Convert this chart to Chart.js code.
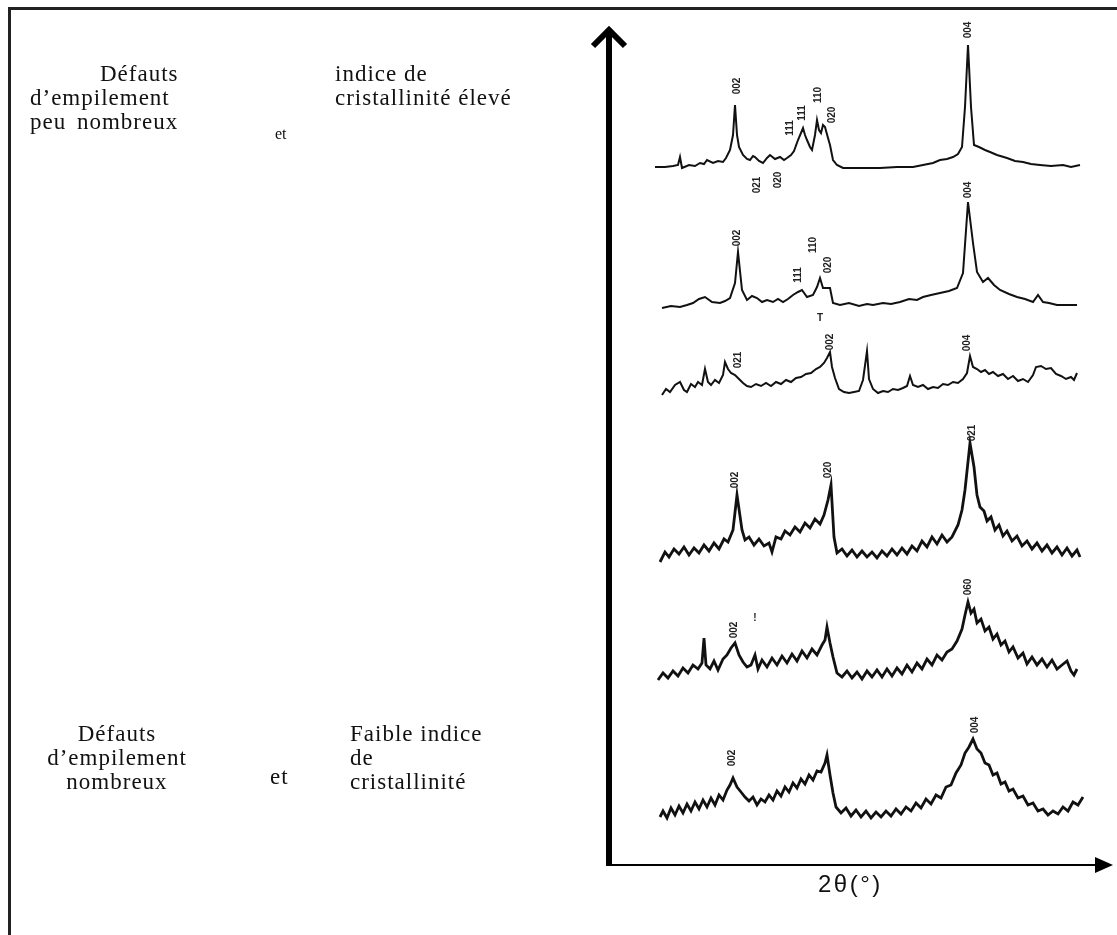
<!DOCTYPE html>
<html>
<head>
<meta charset="utf-8">
<script src="https://cdn.jsdelivr.net/npm/chart.js@4.4.0/dist/chart.umd.min.js"></script>
<style>
    body { margin: 0; background: #fff; width: 1117px; height: 935px; overflow: hidden; position: relative; }
    #cadre { position: absolute; left: 8px; top: 7px; width: 1200px; height: 1000px; border-top: 3px solid #222; border-left: 3px solid #222; }
    canvas { position: absolute; left: 0; top: 0; }
    .txt { position: absolute; font-family: "Liberation Serif", "Times New Roman", serif; font-size: 23px; line-height: 24px; letter-spacing: 1px; color: #111; white-space: nowrap; }
    #axe-x { position: absolute; font-family: "Liberation Sans", Arial, sans-serif; font-size: 24px; letter-spacing: 2.5px; color: #111; left: 818px; top: 870px; }
</style>
</head>
<body>
<div id="cadre"></div>
<canvas id="myChart" width="1117" height="935"></canvas>

<div class="txt" style="left: 100px; top: 62px;">Défauts</div>
<div class="txt" style="left: 30px; top: 86px;">d’empilement<br><span style="word-spacing: 4px;">peu nombreux</span></div>
<div class="txt" style="left: 275px; top: 122px; font-size: 16px; letter-spacing: 0;">et</div>
<div class="txt" style="left: 335px; top: 62px;">indice de<br>cristallinité élevé</div>

<div class="txt" style="left: 34px; top: 722px; width: 166px; text-align: center;">Défauts<br>d’empilement<br>nombreux</div>
<div class="txt" style="left: 270px; top: 765px;">et</div>
<div class="txt" style="left: 350px; top: 722px;">Faible indice<br>de<br>cristallinité</div>

<div id="axe-x">2θ(°)</div>

<script>
// diffractogrammes, du haut (bien cristallisé) vers le bas (désordonné)
// x = 2theta (deg), y = intensite decalee (u.a.)
var x1 = [7.4, 7.9, 8.3, 8.55, 8.65, 8.75, 9.1, 9.4, 9.65, 9.85, 10.0, 10.3, 10.55, 10.8, 10.95, 11.15, 11.3, 11.4, 11.5, 11.6, 11.8, 12.0, 12.15, 12.3, 12.4, 12.6, 12.8, 13.0, 13.15, 13.4, 13.65, 13.85, 14.0, 14.2, 14.35, 14.55, 14.8, 14.9, 15.0, 15.15, 15.25, 15.4, 15.5, 15.6, 15.7, 15.8, 15.9, 16.05, 16.15, 16.3, 16.5, 16.8, 17.5, 18.65, 19.5, 20.3, 20.8, 21.3, 21.65, 22.0, 22.3, 22.55, 22.75, 22.9, 23.05, 23.2, 23.35, 23.6, 23.9, 24.15, 24.5, 25.0, 25.4, 25.8, 26.2, 26.65, 27.2, 27.8, 28.2, 28.65];
var y1 = [768, 768, 769, 770, 778, 767, 770, 769, 772, 771, 775, 772, 774, 773, 777, 785, 800, 830, 800, 788, 780, 776, 775, 779, 778, 774, 772, 777, 780, 776, 778, 775, 777, 780, 784, 795, 807, 800, 795, 788, 785, 800, 815, 805, 802, 810, 808, 797, 790, 775, 770, 767, 767, 767, 768, 768, 770, 772, 775, 776, 778, 781, 788, 828, 890, 828, 790, 788, 785, 783, 780, 777, 774, 773, 771, 770, 769, 770, 768, 770];

var x2 = [7.75, 8.2, 8.65, 9.0, 9.3, 9.6, 9.9, 10.25, 10.65, 10.9, 11.15, 11.4, 11.55, 11.75, 12.0, 12.25, 12.5, 12.75, 13.0, 13.3, 13.55, 13.8, 14.05, 14.3, 14.55, 14.75, 15.0, 15.3, 15.5, 15.65, 15.8, 16.15, 16.3, 16.65, 17.1, 17.6, 18.0, 18.3, 18.8, 19.2, 19.65, 20.1, 20.5, 20.8, 21.2, 21.65, 22.1, 22.5, 22.8, 23.05, 23.3, 23.5, 23.8, 24.05, 24.35, 24.65, 25.1, 25.5, 25.9, 26.3, 26.55, 26.8, 27.1, 27.5, 28.0, 28.5];
var y2 = [627, 629, 628, 630, 632, 636, 638, 633, 632, 634, 637, 652, 683, 645, 635, 639, 637, 633, 635, 633, 636, 633, 636, 640, 643, 645, 638, 640, 648, 657, 647, 647, 632, 630, 632, 629, 631, 630, 632, 631, 633, 636, 635, 638, 640, 642, 644, 647, 662, 733, 692, 663, 653, 657, 650, 645, 641, 638, 636, 633, 640, 633, 632, 630, 630, 630];

var x3 = [7.75, 7.95, 8.15, 8.4, 8.65, 8.85, 9.0, 9.2, 9.4, 9.55, 9.75, 9.9, 10.05, 10.2, 10.4, 10.6, 10.8, 10.9, 11.05, 11.2, 11.4, 11.6, 11.8, 12.0, 12.2, 12.45, 12.7, 12.95, 13.2, 13.45, 13.7, 13.95, 14.2, 14.45, 14.7, 14.95, 15.2, 15.45, 15.65, 15.85, 16.0, 16.15, 16.25, 16.4, 16.6, 16.85, 17.1, 17.35, 17.6, 17.8, 18.0, 18.1, 18.3, 18.55, 18.8, 19.05, 19.3, 19.55, 19.8, 20.0, 20.15, 20.3, 20.55, 20.8, 21.05, 21.3, 21.55, 21.8, 22.05, 22.3, 22.55, 22.8, 23.0, 23.15, 23.3, 23.5, 23.7, 23.9, 24.1, 24.3, 24.55, 24.8, 25.05, 25.3, 25.55, 25.8, 26.05, 26.3, 26.45, 26.7, 26.95, 27.2, 27.45, 27.7, 27.95, 28.2, 28.35, 28.5];
var y3 = [540, 546, 543, 550, 553, 545, 543, 551, 548, 553, 550, 566, 553, 550, 555, 552, 560, 573, 566, 562, 560, 556, 552, 549, 548, 551, 549, 552, 549, 553, 551, 555, 553, 557, 558, 561, 562, 566, 568, 572, 577, 583, 568, 557, 546, 543, 542, 543, 544, 555, 584, 556, 546, 542, 544, 543, 546, 545, 547, 549, 559, 550, 548, 550, 546, 548, 547, 551, 550, 553, 552, 556, 562, 579, 568, 566, 563, 565, 561, 563, 559, 561, 556, 559, 554, 556, 553, 560, 568, 569, 566, 567, 561, 559, 556, 558, 555, 562];

var x4 = [7.65, 7.9, 8.1, 8.35, 8.6, 8.85, 9.1, 9.35, 9.6, 9.85, 10.1, 10.35, 10.6, 10.85, 11.05, 11.3, 11.5, 11.75, 11.9, 12.1, 12.35, 12.6, 12.85, 13.1, 13.25, 13.45, 13.7, 13.9, 14.15, 14.4, 14.65, 14.9, 15.15, 15.4, 15.65, 15.85, 16.05, 16.2, 16.35, 16.5, 16.75, 17.0, 17.25, 17.5, 17.75, 18.0, 18.25, 18.5, 18.75, 19.0, 19.25, 19.5, 19.75, 20.0, 20.25, 20.5, 20.75, 21.0, 21.25, 21.5, 21.75, 22.0, 22.25, 22.55, 22.75, 22.9, 23.15, 23.35, 23.5, 23.65, 23.85, 24.0, 24.2, 24.4, 24.6, 24.8, 25.0, 25.25, 25.5, 25.75, 26.0, 26.25, 26.5, 26.75, 27.0, 27.25, 27.5, 27.75, 28.0, 28.25, 28.5, 28.65];
var y4 = [373, 383, 378, 386, 381, 388, 380, 387, 382, 390, 384, 392, 386, 396, 393, 405, 440, 405, 395, 398, 390, 396, 389, 392, 383, 398, 396, 404, 400, 408, 403, 412, 407, 416, 411, 420, 435, 450, 398, 382, 386, 379, 385, 378, 384, 378, 383, 377, 384, 379, 386, 380, 387, 381, 389, 384, 394, 388, 398, 391, 400, 393, 398, 410, 425, 445, 492, 468, 440, 428, 424, 414, 418, 405, 410, 399, 404, 394, 399, 389, 394, 386, 392, 384, 390, 382, 388, 380, 387, 379, 385, 378];

var x5 = [7.55, 7.8, 8.05, 8.3, 8.55, 8.8, 9.05, 9.3, 9.55, 9.75, 9.85, 9.95, 10.15, 10.35, 10.55, 10.8, 11.0, 11.2, 11.4, 11.6, 11.8, 12.0, 12.2, 12.4, 12.55, 12.75, 13.0, 13.25, 13.5, 13.75, 14.0, 14.25, 14.5, 14.75, 15.0, 15.25, 15.5, 15.75, 15.9, 16.0, 16.15, 16.3, 16.5, 16.75, 17.0, 17.25, 17.5, 17.75, 18.0, 18.25, 18.5, 18.75, 19.0, 19.25, 19.5, 19.75, 20.0, 20.25, 20.5, 20.75, 21.0, 21.25, 21.5, 21.75, 22.0, 22.25, 22.5, 22.75, 22.9, 23.05, 23.2, 23.35, 23.5, 23.7, 23.9, 24.1, 24.3, 24.5, 24.7, 24.9, 25.1, 25.3, 25.55, 25.8, 26.0, 26.25, 26.5, 26.75, 27.0, 27.25, 27.5, 27.75, 28.0, 28.2, 28.35, 28.5];
var y5 = [255, 262, 257, 264, 259, 267, 262, 270, 266, 272, 297, 270, 266, 274, 265, 276, 280, 287, 292, 280, 273, 268, 270, 280, 266, 275, 268, 277, 270, 279, 272, 281, 274, 284, 277, 286, 280, 290, 295, 308, 292, 278, 262, 258, 264, 257, 263, 256, 264, 258, 265, 258, 266, 259, 267, 261, 270, 263, 272, 266, 276, 270, 280, 275, 283, 286, 294, 306, 320, 333, 322, 326, 312, 316, 304, 308, 296, 301, 290, 294, 283, 288, 277, 282, 271, 278, 270, 276, 268, 275, 266, 270, 274, 264, 260, 266];

var x6 = [7.65, 7.8, 8.0, 8.2, 8.4, 8.6, 8.8, 9.0, 9.2, 9.4, 9.6, 9.8, 10.0, 10.2, 10.4, 10.6, 10.8, 11.0, 11.15, 11.3, 11.5, 11.7, 11.9, 12.1, 12.3, 12.5, 12.7, 12.9, 13.1, 13.3, 13.5, 13.7, 13.9, 14.1, 14.3, 14.5, 14.7, 14.9, 15.1, 15.3, 15.5, 15.7, 15.9, 16.0, 16.15, 16.3, 16.45, 16.7, 16.95, 17.2, 17.45, 17.7, 17.95, 18.2, 18.45, 18.7, 18.95, 19.2, 19.45, 19.7, 19.95, 20.2, 20.45, 20.7, 20.95, 21.2, 21.45, 21.7, 21.95, 22.2, 22.45, 22.7, 22.9, 23.1, 23.3, 23.5, 23.7, 23.9, 24.1, 24.3, 24.5, 24.7, 24.9, 25.1, 25.3, 25.55, 25.8, 26.05, 26.3, 26.55, 26.8, 27.05, 27.3, 27.55, 27.8, 28.05, 28.3, 28.55, 28.8];
var y6 = [118, 124, 117, 127, 120, 129, 122, 131, 124, 133, 126, 135, 128, 137, 130, 140, 135, 145, 150, 157, 148, 143, 138, 134, 138, 130, 136, 133, 140, 135, 144, 139, 148, 143, 152, 147, 156, 151, 160, 155, 164, 163, 172, 180, 160, 142, 128, 122, 127, 119, 125, 118, 124, 117, 123, 118, 124, 119, 126, 121, 128, 124, 132, 127, 136, 131, 140, 137, 148, 150, 162, 170, 182, 188, 196, 186, 182, 172, 170, 160, 162, 151, 153, 144, 146, 137, 139, 130, 132, 124, 126, 120, 124, 121, 128, 124, 133, 130, 138];

// indexation des raies (texte vertical)
var raieX = [11.5, 14.15, 14.75, 15.55, 16.25, 12.5, 13.55, 23.05, 11.5, 14.55, 15.3, 16.05, 23.05, 11.55, 16.15, 23.0, 11.4, 16.05, 23.25, 11.35, 23.05, 11.25, 23.4];
var raieY = [849, 807, 822, 840, 820, 750, 755, 905, 697, 660, 690, 670, 745, 575, 593, 592, 455, 465, 502, 305, 348, 177, 210];
var raieTxt = ["002", "111", "111", "110", "020", "021", "020", "004", "002", "111", "110", "020", "004", "021", "002", "004", "002", "020", "021", "002", "060", "002", "004"];

// petites marques isolees
var marqueX = [15.65, 12.4];
var marqueY = [617, 317];
var marqueTxt = ["T", "!"];

// origine des axes fleches
var axeX0 = 5.1, axeXmax = 30.3;
var axeY0 = 70, axeYmax = 908;

function serie(xs, ys) {
    return xs.map(function (x, i) {
        return { x: x, y: ys[i] };
    });
}

var lesX = [x1, x2, x3, x4, x5, x6];
var lesY = [y1, y2, y3, y4, y5, y6];
var datasets = [];
for (var i = 0; i < lesX.length; i++) {
    datasets.push({
        data: serie(lesX[i], lesY[i]),
        borderColor: "#111",
        borderWidth: i < 3 ? 2 : 2.8,
        pointRadius: 0,
        tension: 0,
        fill: false
    });
}

var axesFleches = {
    id: "axesFleches",
    afterDraw: function (chart) {
        var ctx = chart.ctx;
        var sx = chart.scales.x, sy = chart.scales.y;
        var x0 = sx.getPixelForValue(axeX0);
        var y0 = sy.getPixelForValue(axeY0);
        var xm = sx.getPixelForValue(axeXmax);
        var ym = sy.getPixelForValue(axeYmax);
        ctx.save();
        ctx.strokeStyle = "#000";
        ctx.fillStyle = "#000";
        // axe vertical epais
        ctx.lineWidth = 6;
        ctx.beginPath();
        ctx.moveTo(x0, y0);
        ctx.lineTo(x0, ym + 2);
        ctx.stroke();
        ctx.lineJoin = "miter";
        ctx.beginPath();
        ctx.moveTo(x0 - 16, ym + 19);
        ctx.lineTo(x0, ym + 3);
        ctx.lineTo(x0 + 16, ym + 19);
        ctx.stroke();
        // axe horizontal
        ctx.lineWidth = 2;
        ctx.beginPath();
        ctx.moveTo(x0 - 3, y0);
        ctx.lineTo(xm - 14, y0);
        ctx.stroke();
        ctx.beginPath();
        ctx.moveTo(xm, y0);
        ctx.lineTo(xm - 18, y0 - 8);
        ctx.lineTo(xm - 18, y0 + 8);
        ctx.closePath();
        ctx.fill();
        ctx.restore();
    }
};

var indexation = {
    id: "indexation",
    afterDatasetsDraw: function (chart) {
        var ctx = chart.ctx;
        var sx = chart.scales.x, sy = chart.scales.y;
        ctx.save();
        ctx.fillStyle = "#222";
        ctx.font = "bold 10px 'Liberation Sans', Arial, sans-serif";
        ctx.textAlign = "center";
        ctx.textBaseline = "middle";
        for (var i = 0; i < raieTxt.length; i++) {
            ctx.save();
            ctx.translate(sx.getPixelForValue(raieX[i]), sy.getPixelForValue(raieY[i]));
            ctx.rotate(-Math.PI / 2);
            ctx.fillText(raieTxt[i], 0, 0);
            ctx.restore();
        }
        for (var j = 0; j < marqueTxt.length; j++) {
            ctx.fillText(marqueTxt[j], sx.getPixelForValue(marqueX[j]), sy.getPixelForValue(marqueY[j]));
        }
        ctx.restore();
    }
};

var ctx = document.getElementById("myChart").getContext("2d");
var myChart = new Chart(ctx, {
    type: "line",
    data: { datasets: datasets },
    options: {
        responsive: false,
        animation: false,
        devicePixelRatio: 1,
        layout: { padding: { left: 607, right: 4, top: 30, bottom: 70 } },
        plugins: { legend: { display: false }, tooltip: { enabled: false } },
        scales: {
            x: { type: "linear", min: 5, max: 30.3, display: false },
            y: { type: "linear", min: 70, max: 905, display: false }
        }
    },
    plugins: [axesFleches, indexation]
});
</script>
</body>
</html>
